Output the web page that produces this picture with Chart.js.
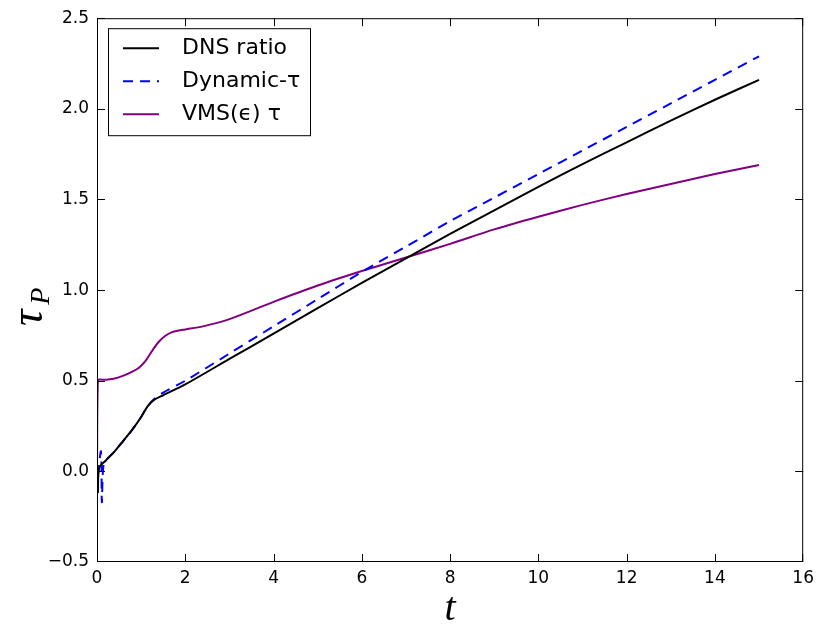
<!DOCTYPE html>
<html>
<head>
<meta charset="utf-8">
<script src="https://cdn.jsdelivr.net/npm/chart.js@4"></script>
<style>
  html, body { margin: 0; padding: 0; background: #fff; }
  #wrap { width: 820px; height: 626px; }
</style>
</head>
<body>
<div id="wrap"><canvas id="cv" width="820" height="626"></canvas></div>
<script>
// axis ticks
const xTicks = [0, 2, 4, 6, 8, 10, 12, 14, 16];
const yTicks = [-0.5, 0.0, 0.5, 1.0, 1.5, 2.0, 2.5];

// DNS ratio
const tDns = [0.02, 0.05, 0.2, 0.4, 0.6, 0.8, 1.0, 1.15, 1.3, 1.5, 2, 3, 4, 5, 6, 7, 8, 9, 10, 11, 12, 13, 14, 15];
const dnsRatio = [-0.12, 0.02, 0.06, 0.11, 0.17, 0.23, 0.30, 0.36, 0.395, 0.42, 0.48, 0.62, 0.76, 0.90, 1.04, 1.175, 1.31, 1.44, 1.57, 1.695, 1.815, 1.935, 2.05, 2.16];

// Dynamic-tau
const tDyn = [0.02, 0.09, 0.11, 0.14, 0.2, 0.4, 0.6, 0.8, 1.0, 1.15, 1.3, 1.5, 2, 3, 4, 5, 6, 7, 8, 9, 10, 11, 12, 13, 14, 15];
const dynTau = [-0.02, 0.11, -0.17, 0.02, 0.06, 0.11, 0.17, 0.23, 0.30, 0.36, 0.40, 0.435, 0.50, 0.65, 0.80, 0.95, 1.10, 1.24, 1.38, 1.51, 1.64, 1.77, 1.90, 2.03, 2.16, 2.29];

// VMS(eps) tau
const tVms = [0.0, 0.02, 0.2, 0.4, 0.6, 0.8, 0.95, 1.1, 1.25, 1.4, 1.55, 1.7, 1.85, 2.0, 2.4, 3, 4, 5, 6, 7, 8, 9, 10, 11, 12, 13, 14, 15];
const vmsTau = [-0.02, 0.50, 0.505, 0.512, 0.528, 0.55, 0.572, 0.61, 0.665, 0.715, 0.748, 0.768, 0.777, 0.783, 0.80, 0.84, 0.935, 1.025, 1.105, 1.18, 1.255, 1.335, 1.405, 1.47, 1.53, 1.585, 1.64, 1.69];

const pts = (xs, ys) => xs.map((x, i) => ({x: x, y: ys[i]}));

const series = [
  {label: 'DNS ratio', data: pts(tDns, dnsRatio), color: '#000000', dash: []},
  {label: 'Dynamic-\u03c4', data: pts(tDyn, dynTau), color: '#0000ff', dash: [10, 7]},
  {label: 'VMS(\u03f5) \u03c4', data: pts(tVms, vmsTau), color: '#800080', dash: []}
];

const TICK_FONT = {family: 'DejaVu Sans', size: 17};

// frame, inward ticks, legend and axis titles (matplotlib classic look)
const decor = {
  id: 'decor',
  afterDraw(chart) {
    const ctx = chart.ctx;
    const a = chart.chartArea;
    const xs = chart.scales.x, ys = chart.scales.y;
    ctx.save();
    ctx.strokeStyle = '#000';
    ctx.lineWidth = 1;
    ctx.strokeRect(a.left + 0.5, a.top + 0.5, a.right - a.left - 1, a.bottom - a.top - 1);

    const tl = 8;
    ctx.beginPath();
    xTicks.forEach(v => {
      const px = Math.min(Math.round(xs.getPixelForValue(v)), a.right - 1) + 0.5;
      ctx.moveTo(px, a.bottom); ctx.lineTo(px, a.bottom - tl);
      ctx.moveTo(px, a.top); ctx.lineTo(px, a.top + tl);
    });
    yTicks.forEach(v => {
      const py = Math.min(Math.round(ys.getPixelForValue(v)), a.bottom - 1) + 0.5;
      ctx.moveTo(a.left, py); ctx.lineTo(a.left + tl, py);
      ctx.moveTo(a.right, py); ctx.lineTo(a.right - tl, py);
    });
    ctx.stroke();

    // legend box
    const bx = a.left + 11, by = a.top + 10, bw = 202, bh = 107;
    ctx.fillStyle = '#fff';
    ctx.fillRect(bx, by, bw, bh);
    ctx.strokeStyle = '#000';
    ctx.lineWidth = 1;
    ctx.strokeRect(bx + 0.5, by + 0.5, bw, bh);
    ctx.font = '22px "DejaVu Sans"';
    ctx.textBaseline = 'middle';
    series.forEach((s, i) => {
      const y = by + 20 + i * 33;
      ctx.strokeStyle = s.color;
      ctx.lineWidth = 2;
      ctx.setLineDash(s.dash);
      ctx.beginPath();
      ctx.moveTo(bx + 15, y); ctx.lineTo(bx + 51, y);
      ctx.stroke();
      ctx.setLineDash([]);
      ctx.fillStyle = '#000';
      ctx.fillText(s.label, bx + 74, y);
    });

    // x title
    ctx.fillStyle = '#000';
    ctx.textAlign = 'center';
    ctx.textBaseline = 'alphabetic';
    ctx.font = 'italic 40px "Liberation Serif"';
    ctx.fillText('t', (a.left + a.right) / 2, 620);

    // y title: tau with subscript P
    ctx.translate(42, (a.top + a.bottom) / 2 + 36);
    ctx.rotate(-Math.PI / 2);
    ctx.textAlign = 'left';
    ctx.font = 'italic 46px "Liberation Serif"';
    ctx.fillText('\u03c4', 0, 0);
    const w = ctx.measureText('\u03c4').width;
    ctx.font = 'italic 28px "Liberation Serif"';
    ctx.fillText('P', w + 5, 7);
    ctx.restore();
  }
};

new Chart(document.getElementById('cv').getContext('2d'), {
  type: 'line',
  data: {
    datasets: series.map(s => ({
      label: s.label,
      data: s.data,
      borderColor: s.color,
      borderWidth: 2,
      borderDash: s.dash,
      pointRadius: 0,
      fill: false,
      tension: 0.3
    }))
  },
  options: {
    responsive: false,
    animation: false,
    layout: {padding: {left: 0, right: 15, top: 15, bottom: 0}},
    plugins: {legend: {display: false}, tooltip: {enabled: false}},
    scales: {
      x: {
        type: 'linear', min: 0, max: 16,
        grid: {display: false, drawTicks: false},
        border: {display: false},
        afterBuildTicks: s => { s.ticks = xTicks.map(v => ({value: v})); },
        afterFit: s => { s.height = 64; },
        ticks: {color: '#000', font: TICK_FONT, padding: 6, maxRotation: 0,
                callback: v => String(v)}
      },
      y: {
        min: -0.5, max: 2.5,
        grid: {display: false, drawTicks: false},
        border: {display: false},
        afterBuildTicks: s => { s.ticks = yTicks.map(v => ({value: v})); },
        afterFit: s => { s.width = 97; },
        ticks: {color: '#000', font: TICK_FONT, padding: 8,
                callback: v => v.toFixed(1).replace('-', '\u2212')}
      }
    }
  },
  plugins: [decor]
});
</script>
</body>
</html>
